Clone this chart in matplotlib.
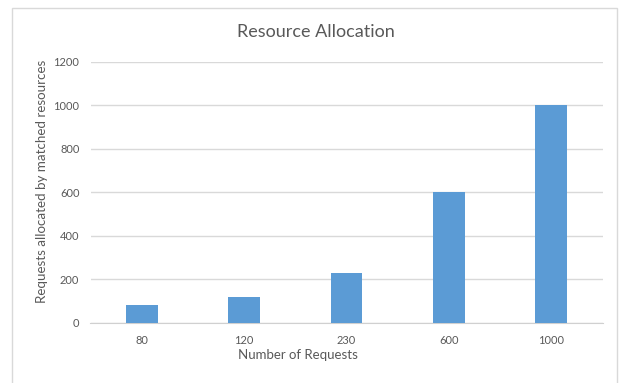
import matplotlib.pyplot as plt
from matplotlib.patches import Rectangle

categories = ["80", "120", "230", "600", "1000"]
allocated = [80, 120, 230, 600, 1000]
yticks = [0, 200, 400, 600, 800, 1000, 1200]

bar_color = "#5B9BD5"
grid_color = "#D9D9D9"
text_color = "#595959"

plt.rcParams["font.family"] = ["Lato", "DejaVu Sans"]

fig = plt.figure(figsize=(6.2, 3.83), dpi=100)
W, H = 620, 383

# chart frame
fig.patches.append(Rectangle((12 / W, -0.05), 605 / W, 1.05 - 8 / H,
                             transform=fig.transFigure, fill=False,
                             edgecolor="#D9D9D9", linewidth=1.0))

ax_l, ax_b, ax_w, ax_h = 90.5, 60.3, 512, 261
ax = fig.add_axes([ax_l / W, ax_b / H, ax_w / W, ax_h / H])
x = range(len(categories))
ax.bar(x, allocated, width=0.31, color=bar_color, zorder=3)

ax.set_xlim(-0.5, len(categories) - 0.5)
ax.set_ylim(0, 1200)
ax.set_yticks(yticks)
ax.set_xticks(list(x))
ax.set_xticklabels(categories)
ax.yaxis.grid(True, color=grid_color, linewidth=1.0, zorder=0)
for s in ["top", "right", "left"]:
    ax.spines[s].set_visible(False)
ax.spines["bottom"].set_color("#D0D0D0")
ax.tick_params(axis="both", length=0, labelsize=8, labelcolor=text_color)
ax.tick_params(axis="y", pad=8)
ax.tick_params(axis="x", pad=9)

# axis titles, placed in pixel terms
ax.set_xlabel("Number of Requests", fontsize=9.5, color=text_color, va="center")
ax.xaxis.set_label_coords((298 - ax_l) / ax_w, ((H - 355) - ax_b) / ax_h)
ax.set_ylabel("Requests allocated by matched resources", fontsize=9.6,
              color=text_color, va="center")
ax.yaxis.set_label_coords((42 - ax_l) / ax_w, ((H - 181) - ax_b) / ax_h)

fig.text(316 / W, 1 - 32 / H, "Resource Allocation", fontsize=13,
         color=text_color, ha="center", va="center")

fig.savefig("out.png", dpi=100)
